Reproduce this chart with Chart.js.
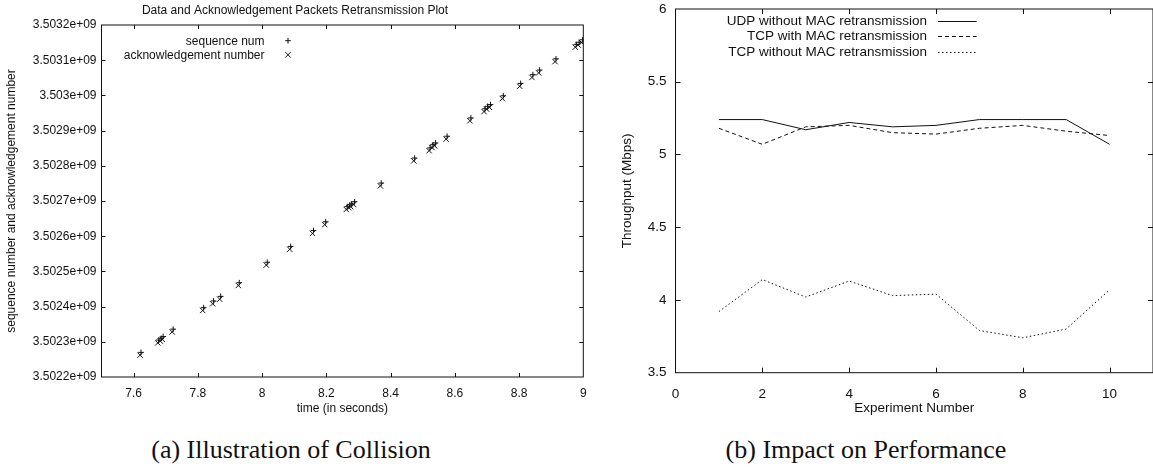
<!DOCTYPE html>
<html><head><meta charset="utf-8">
<script src="https://cdn.jsdelivr.net/npm/chart.js@4.4.1/dist/chart.umd.min.js"></script>
<style>
html,body{margin:0;padding:0;background:#fff;width:1153px;height:472px;overflow:hidden;}
#ca{position:absolute;left:0;top:0;}
#cb{position:absolute;left:580px;top:0;}
.cap{position:absolute;top:435px;line-height:30px;font-family:"Liberation Serif","Times New Roman",serif;font-size:26px;color:#111;white-space:nowrap;transform:translateX(-50%);}
</style></head>
<body>
<canvas id="ca" width="590" height="430"></canvas>
<canvas id="cb" width="573" height="430"></canvas>
<div class="cap" style="left:291px">(a) Illustration of Collision</div>
<div class="cap" style="left:866px">(b) Impact on Performance</div>
<script>
// ---------- Panel (a) data ----------
const seqTime = [7.623,7.678,7.686,7.692,7.723,7.818,7.849,7.871,7.929,8.016,8.089,8.160,8.198,8.265,8.273,8.279,8.288,8.371,8.475,8.523,8.532,8.540,8.576,8.650,8.694,8.702,8.711,8.751,8.805,8.843,8.864,8.915,8.978,8.987,8.998];
const seqNum  = [3502270000,3502305000,3502310000,3502315000,3502336000,3502397000,3502416000,3502429000,3502468000,3502526000,3502571000,3502616000,3502641000,3502684000,3502689000,3502692000,3502698000,3502751000,3502822000,3502851000,3502860000,3502865000,3502884000,3502936000,3502962000,3502969000,3502974000,3502999000,3503034000,3503059000,3503072000,3503104000,3503145000,3503151000,3503158000];
const ackTime = [7.620,7.675,7.683,7.689,7.720,7.815,7.846,7.868,7.926,8.013,8.086,8.157,8.195,8.262,8.270,8.276,8.285,8.368,8.472,8.520,8.529,8.537,8.573,8.647,8.691,8.699,8.708,8.748,8.802,8.840,8.861,8.912,8.975,8.984,8.995];
const ackNum  = [3502262000,3502297000,3502302000,3502307000,3502328000,3502389000,3502408000,3502421000,3502460000,3502518000,3502563000,3502608000,3502633000,3502676000,3502681000,3502684000,3502690000,3502743000,3502814000,3502843000,3502852000,3502857000,3502876000,3502928000,3502954000,3502961000,3502966000,3502991000,3503026000,3503051000,3503064000,3503096000,3503137000,3503143000,3503150000];
const xTicksA = [7.6,7.8,8,8.2,8.4,8.6,8.8,9];
const xTickLabelsA = ['7.6','7.8','8','8.2','8.4','8.6','8.8','9'];
const yTicksA = [3502200000,3502300000,3502400000,3502500000,3502600000,3502700000,3502800000,3502900000,3503000000,3503100000,3503200000];
const yTickLabelsA = ['3.5022e+09','3.5023e+09','3.5024e+09','3.5025e+09','3.5026e+09','3.5027e+09','3.5028e+09','3.5029e+09','3.503e+09','3.5031e+09','3.5032e+09'];

// ---------- Panel (b) data ----------
const experiments = [1,2,3,4,5,6,7,8,9,10];
const udpNoMac = [5.24,5.24,5.17,5.22,5.19,5.20,5.24,5.24,5.24,5.07];
const tcpMac   = [5.18,5.07,5.19,5.20,5.15,5.14,5.18,5.20,5.16,5.13];
const tcpNoMac = [3.92,4.14,4.02,4.13,4.03,4.04,3.79,3.74,3.80,4.07];
const xTicksB = [0,2,4,6,8,10];
const xTickLabelsB = ['0','2','4','6','8','10'];
const yTicksB = [3.5,4,4.5,5,5.5,6];
const yTickLabelsB = ['3.5','4','4.5','5','5.5','6'];

const INK = '#111';
const SANS = '"Liberation Sans", Arial, Helvetica, sans-serif';

// pin the plot rectangle (layout only)
const areaPlugin = {
  id: 'area',
  afterLayout(chart, args, o) {
    const a = chart.chartArea;
    a.left = o.left; a.top = o.top; a.right = o.right; a.bottom = o.bottom;
    a.width = o.right - o.left; a.height = o.bottom - o.top;
    const {x, y} = chart.scales;
    x.left = o.left; x.right = o.right; x.width = o.right - o.left;
    x.top = o.bottom; x.bottom = chart.height; x.height = x.bottom - x.top;
    y.top = o.top; y.bottom = o.bottom; y.height = o.bottom - o.top;
    y.left = 0; y.right = o.left; y.width = o.left;
    x.configure(); y.configure();
  }
};

// gnuplot-like frame with inward mirrored tick marks
const framePlugin = {
  id: 'frame',
  afterDatasetsDraw(chart, args, opts){
    const {ctx, chartArea: a, scales: {x, y}} = chart;
    const L = opts.tick;
    ctx.save();
    ctx.strokeStyle = INK; ctx.lineWidth = 1;
    ctx.strokeRect(a.left, a.top, a.right - a.left, a.bottom - a.top);
    ctx.beginPath();
    x.ticks.forEach(t => {
      const p = Math.round(x.getPixelForValue(t.value)) + 0.5;
      if (p <= a.left + 1 || p >= a.right - 1) return;
      ctx.moveTo(p, a.bottom); ctx.lineTo(p, a.bottom - L);
      ctx.moveTo(p, a.top); ctx.lineTo(p, a.top + L);
    });
    y.ticks.forEach(t => {
      const p = Math.round(y.getPixelForValue(t.value)) + 0.5;
      if (p <= a.top + 1 || p >= a.bottom - 1) return;
      ctx.moveTo(a.left, p); ctx.lineTo(a.left + L, p);
      ctx.moveTo(a.right, p); ctx.lineTo(a.right - L, p);
    });
    ctx.stroke();
    ctx.restore();
  }
};

// gnuplot-style key: right-aligned text followed by sample
const keyPlugin = {
  id: 'key',
  afterDraw(chart, args, o){
    const ctx = chart.ctx;
    ctx.save();
    ctx.font = o.fontSize + 'px ' + SANS;
    ctx.fillStyle = INK; ctx.strokeStyle = INK; ctx.lineWidth = 1;
    ctx.textAlign = 'right'; ctx.textBaseline = 'middle';
    chart.data.datasets.forEach((ds, i) => {
      const yy = o.y0 + i * o.dy;
      ctx.fillText(ds.label, o.textRight, yy + 0.5);
      ctx.beginPath();
      if (ds.pointStyle === 'cross') {
        const r = ds.pointRadius;
        ctx.moveTo(o.sym - r, yy); ctx.lineTo(o.sym + r, yy);
        ctx.moveTo(o.sym, yy - r); ctx.lineTo(o.sym, yy + r);
        ctx.stroke();
      } else if (ds.pointStyle === 'crossRot') {
        const r = ds.pointRadius * Math.SQRT1_2;
        ctx.moveTo(o.sym - r, yy - r); ctx.lineTo(o.sym + r, yy + r);
        ctx.moveTo(o.sym - r, yy + r); ctx.lineTo(o.sym + r, yy - r);
        ctx.stroke();
      } else {
        ctx.setLineDash(ds.borderDash || []);
        const ly = Math.round(yy) + 0.5;
        ctx.moveTo(o.lineFrom, ly); ctx.lineTo(o.lineTo, ly);
        ctx.stroke();
        ctx.setLineDash([]);
      }
    });
    ctx.restore();
  }
};

Chart.defaults.font.family = SANS;
Chart.defaults.color = INK;

// ---------- Chart (a) ----------
new Chart(document.getElementById('ca'), {
  type: 'scatter',
  data: {
    datasets: [
      { label: 'sequence num', data: seqTime.map((t, i) => ({x: t, y: seqNum[i]})),
        pointStyle: 'cross', pointRadius: 2.8, pointBorderWidth: 1, borderColor: INK, backgroundColor: INK, showLine: false },
      { label: 'acknowledgement number', data: ackTime.map((t, i) => ({x: t, y: ackNum[i]})),
        pointStyle: 'crossRot', pointRadius: 3.8, pointBorderWidth: 1, borderColor: INK, backgroundColor: INK, showLine: false }
    ]
  },
  options: {
    responsive: false, animation: false, events: [],
    plugins: {
      legend: { display: false }, tooltip: { enabled: false },
      title: { display: true, text: 'Data and Acknowledgement Packets Retransmission Plot',
               font: { size: 12, weight: 'normal' }, color: INK, padding: { top: 3, bottom: 7.6 } },
      area: { left: 101.5, top: 25, right: 583.3, bottom: 377 },
      frame: { tick: 4 },
      key: { fontSize: 12, textRight: 264.5, sym: 288, y0: 40.7, dy: 14.1 }
    },
    scales: {
      x: { type: 'linear', min: 7.5, max: 9,
           afterBuildTicks: s => { s.ticks = xTicksA.map(v => ({value: v})); },
           grid: { display: false, drawTicks: false }, border: { display: false },
           ticks: { font: { size: 12 }, padding: 9, maxRotation: 0, autoSkip: false, callback: (v, i) => xTickLabelsA[i] },
           title: { display: true, text: 'time (in seconds)', font: { size: 12 }, padding: { top: 0, bottom: 13.8 } } },
      y: { type: 'linear', min: 3502200000, max: 3503200000,
           afterBuildTicks: s => { s.ticks = yTicksA.map(v => ({value: v})); },
           grid: { display: false, drawTicks: false }, border: { display: false },
           ticks: { font: { size: 12 }, padding: 5, autoSkip: false, callback: (v, i) => yTickLabelsA[i] },
           title: { display: true, text: 'sequence number and acknowledgement number', font: { size: 12 }, padding: { top: 4.3, bottom: 0 } } }
    }
  },
  plugins: [areaPlugin, framePlugin, keyPlugin]
});

// ---------- Chart (b) ----------
new Chart(document.getElementById('cb'), {
  type: 'line',
  data: {
    datasets: [
      { label: 'UDP without MAC retransmission', data: experiments.map((e, i) => ({x: e, y: udpNoMac[i]})),
        borderColor: INK, borderWidth: 1, borderDash: [], pointRadius: 0, tension: 0, fill: false },
      { label: 'TCP with MAC retransmission', data: experiments.map((e, i) => ({x: e, y: tcpMac[i]})),
        borderColor: INK, borderWidth: 1, borderDash: [4, 3], pointRadius: 0, tension: 0, fill: false },
      { label: 'TCP without MAC retransmission', data: experiments.map((e, i) => ({x: e, y: tcpNoMac[i]})),
        borderColor: INK, borderWidth: 1, borderDash: [1.5, 2.5], pointRadius: 0, tension: 0, fill: false }
    ]
  },
  options: {
    responsive: false, animation: false, events: [],
    plugins: {
      legend: { display: false }, tooltip: { enabled: false },
      area: { left: 95.5, top: 9, right: 573, bottom: 372.7 },
      frame: { tick: 5 },
      key: { fontSize: 13.5, textRight: 347, lineFrom: 358, lineTo: 396.6, y0: 20.5, dy: 15.5 }
    },
    scales: {
      x: { type: 'linear', min: 0, max: 11,
           afterBuildTicks: s => { s.ticks = xTicksB.map(v => ({value: v})); },
           grid: { display: false, drawTicks: false }, border: { display: false },
           ticks: { font: { size: 13.5 }, padding: 13, maxRotation: 0, autoSkip: false, callback: (v, i) => xTickLabelsB[i] },
           title: { display: true, text: 'Experiment Number', font: { size: 13.5 }, padding: { top: 0, bottom: 13.9 } } },
      y: { type: 'linear', min: 3.5, max: 6,
           afterBuildTicks: s => { s.ticks = yTicksB.map(v => ({value: v})); },
           grid: { display: false, drawTicks: false }, border: { display: false },
           ticks: { font: { size: 13.5 }, padding: 9, autoSkip: false, callback: (v, i) => yTickLabelsB[i] },
           title: { display: true, text: 'Throughput (Mbps)', font: { size: 13.5 }, padding: { top: 39.4, bottom: 0 } } }
    }
  },
  plugins: [areaPlugin, framePlugin, keyPlugin]
});
</script>
</body></html>
